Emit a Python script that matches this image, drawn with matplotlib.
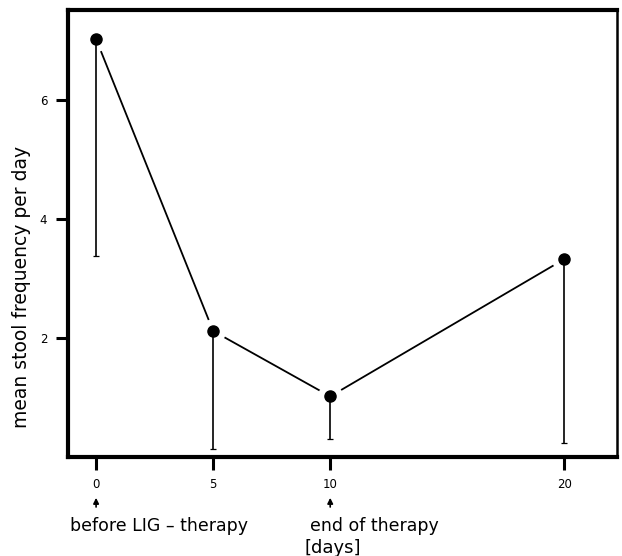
import numpy as np
import matplotlib
matplotlib.use("Agg")
import matplotlib.pyplot as plt

# ============================================================
# Data
# ============================================================

days = [0, 5, 10, 20]
mean_freq = [7.03, 2.12, 1.02, 3.33]
lower_end = [3.39, 0.13, 0.30, 0.23]

x_ticks = [0, 5, 10, 20]
y_ticks = [2, 4, 6]

arrow_days = [0, 10]


# ============================================================
# Figure
# ============================================================

fig = plt.figure(figsize=(6.22, 5.56), dpi=100)
ax = fig.add_axes([0.1093, 0.178, 0.8827, 0.804])

days_arr = np.array(days)
mean_arr = np.array(mean_freq)
low_err = mean_arr - np.array(lower_end)

# connecting line, broken near each point by a white halo
ax.plot(days_arr, mean_arr, color="black", lw=1.3, zorder=1)
ax.plot(days_arr, mean_arr, ls="none", marker="o", ms=17,
        mfc="white", mec="white", zorder=2)

# downward-only error bars
ax.errorbar(days_arr, mean_arr, yerr=[low_err, np.zeros_like(low_err)],
            fmt="none", ecolor="black", elinewidth=1.2, capsize=2.5,
            capthick=0.9, zorder=3)

ax.plot(days_arr, mean_arr, ls="none", marker="o", ms=8,
        mfc="black", mec="black", zorder=4)

ax.set_xlim(-1.2, 22.25)
ax.set_ylim(0.0, 7.52)

ax.set_xticks(x_ticks)
ax.set_yticks(y_ticks)
ax.tick_params(axis="both", direction="out", length=9, width=2.2,
               labelsize=8.5, pad=6)

for side in ["left", "bottom", "top"]:
    ax.spines[side].set_linewidth(3)
ax.spines["right"].set_linewidth(1.8)

ax.set_ylabel("mean stool frequency per day", fontsize=13.5)
ax.yaxis.set_label_coords(-0.068, 0.38)

# small arrows marking start and end of therapy
for d in arrow_days:
    ax.annotate("", xy=(d, -0.085), xytext=(d, -0.118),
                xycoords=("data", "axes fraction"),
                textcoords=("data", "axes fraction"),
                arrowprops=dict(arrowstyle="-|>", color="black", lw=1.2,
                                mutation_scale=8),
                annotation_clip=False)

fig.text(70 / 622, 0.054, "before LIG \u2013 therapy", fontsize=12.5,
         ha="left", va="center")
fig.text(310 / 622, 0.054, "end of therapy", fontsize=12.5,
         ha="left", va="center")
fig.text(304 / 622, 0.0144, "[days]", fontsize=13, ha="left", va="center")

fig.savefig("out.png", dpi=100)
